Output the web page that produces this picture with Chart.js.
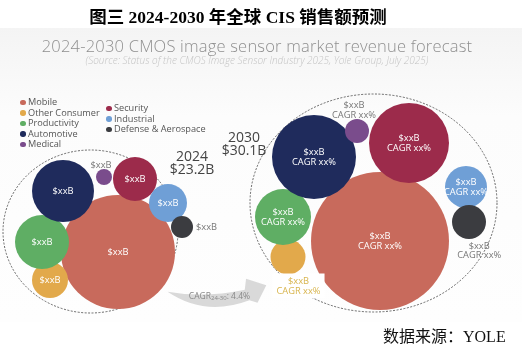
<!DOCTYPE html>
<html>
<head>
<meta charset="utf-8">
<script src="https://cdn.jsdelivr.net/npm/chart.js@4.4.1/dist/chart.umd.min.js"></script>
<style>
  html, body { margin: 0; padding: 0; background: #fff; }
  #wrap { position: relative; width: 522px; height: 347px; overflow: hidden; background: #fff; }
  #panel { position: absolute; left: 0; top: 28px; width: 522px; height: 294px;
    background: linear-gradient(#f4f4f4, #fcfcfc 30%, #fefefe); }
  #c { position: absolute; left: 0; top: 0; }
  .t { position: absolute; white-space: nowrap; }
  #title { left: 0; width: 476px; top: 3px; text-align: center; font: bold 17.5px "Liberation Serif", "Noto Sans CJK SC", serif; color: #000; }
  #sub { left: 0; width: 514px; top: 34px; text-align: center; font: 300 16.5px "Open Sans", sans-serif; color: #8f8f8f; letter-spacing: 0.2px; }
  #src { left: 0; width: 514px; top: 53px; text-align: center; font: italic 300 10px "Open Sans", sans-serif; color: #c4c4c4; }
  #legend { position: absolute; left: 0; top: 0; font: 9.2px "Open Sans", sans-serif; color: #555; }
  .li { position: absolute; white-space: nowrap; line-height: 10px; }
  .li i { position: absolute; left: -8px; top: 2.5px; width: 5.5px; height: 5.5px; border-radius: 50%; }
  .year { font: 14px "Open Sans", sans-serif; color: #444; text-align: center; line-height: 12.5px; }
  #foot { left: 383px; top: 323px; font: 16px "Liberation Serif", "Noto Sans CJK SC", serif; color: #111; }
</style>
</head>
<body>
<div id="wrap">
  <div id="panel"></div>
  <canvas id="c" width="522" height="347"></canvas>
  <div class="t" id="title">图三 2024-2030 年全球 CIS 销售额预测</div>
  <div class="t" id="sub">2024-2030 CMOS image sensor market revenue forecast</div>
  <div class="t" id="src">(Source: Status of the CMOS Image Sensor Industry 2025, Yole Group, July 2025)</div>
  <div id="legend"></div>
  <div class="t year" style="left:166px; top:150px; width:52px;">2024<br>$23.2B</div>
  <div class="t year" style="left:218px; top:131px; width:52px;">2030<br>$30.1B</div>
  <div class="t" id="foot">数据来源：YOLE</div>
</div>

<script>
// ---- data ----
const categories = ['Mobile', 'Other Consumer', 'Productivity', 'Automotive', 'Medical', 'Security', 'Industrial', 'Defense & Aerospace'];
const colors = ['#c86a5c', '#e2a94b', '#5fae64', '#1f2b5c', '#7a4c8c', '#9c2b4b', '#6f9fd6', '#3b3c40'];

const cagrText = '4.4%';

// bubble centres and radii (chart units)
const x2024 = [118, 50, 42, 63, 104, 135, 168, 182];
const y2024 = [252, 280, 242, 191, 177, 179, 203, 227];
const r2024 = [57, 18, 27, 31, 8, 22, 19, 11];

const x2030 = [380, 288, 283, 314, 357, 409, 466, 469];
const y2030 = [241, 257, 217, 157, 131, 143, 187, 222];
const r2030 = [69, 17.5, 28, 42, 12, 40, 21, 17];

// where the value label goes for each bubble
const labelPos2024 = ['in', 'in', 'in', 'in', 'above', 'in', 'in', 'right'];
const labelPos2030 = ['in', 'belowR', 'in', 'in', 'above', 'in', 'in', 'belowR'];

// dashed rings round each year
const ringX = [90.5, 373.5];
const ringY = [231.5, 203];
const ringRx = [87.5, 123.5];
const ringRy = [81.5, 109];

// ---- legend ----
const legendCol = [0, 0, 0, 0, 0, 1, 1, 1];
const legend = document.getElementById('legend');
let rowInCol = [0, 0];
categories.forEach((c, i) => {
  const col = legendCol[i];
  const row = rowInCol[col]++;
  const el = document.createElement('div');
  el.className = 'li';
  el.style.left = (col ? 114 : 28) + 'px';
  el.style.top = ((col ? 103 : 97) + row * 10.6) + 'px';
  el.innerHTML = `<i style="background:${colors[i]}"></i>${c}`;
  legend.appendChild(el);
});

// ---- helpers ----
function unitToPx(chart, r) {
  const s = chart.scales.x;
  return Math.abs(s.getPixelForValue(r) - s.getPixelForValue(0));
}

function bubbleData(xs, ys) {
  return xs.map((x, i) => ({ x: x, y: ys[i], r: 0 }));
}

// dashed rings + CAGR arrow, under the bubbles
const ringsPlugin = {
  id: 'rings',
  beforeDatasetsDraw(chart) {
    const { ctx, scales } = chart;
    const sx = scales.x, sy = scales.y;
    ctx.save();

    // arrow from ring 2024 to ring 2030
    const ringPt = (k, deg, f) => {
      const a = deg * Math.PI / 180;
      return {
        x: sx.getPixelForValue(ringX[k] + Math.cos(a) * ringRx[k] * f),
        y: sy.getPixelForValue(ringY[k] + Math.sin(a) * ringRy[k] * f)
      };
    };
    const S = ringPt(0, 40, 1.15);
    const T = ringPt(1, 139, 1.15);
    const dx = T.x - S.x, dy = T.y - S.y;
    const P = (u, v) => ({ x: S.x + u * dx - v * dy, y: S.y + u * dy + v * dx });
    // v positive = below the S->T line
    const pts = {
      cu: P(0.36, 0.09), bu: P(0.78, 0.03), ht: P(0.80, -0.08), tip: P(1, 0),
      hb: P(0.90, 0.17), bl: P(0.82, 0.14), cl: P(0.36, 0.28)
    };
    ctx.fillStyle = '#d9d9d9';
    ctx.beginPath();
    ctx.moveTo(S.x, S.y);
    ctx.quadraticCurveTo(pts.cu.x, pts.cu.y, pts.bu.x, pts.bu.y);
    ctx.lineTo(pts.ht.x, pts.ht.y);
    ctx.lineTo(pts.tip.x, pts.tip.y);
    ctx.lineTo(pts.hb.x, pts.hb.y);
    ctx.lineTo(pts.bl.x, pts.bl.y);
    ctx.quadraticCurveTo(pts.cl.x, pts.cl.y, S.x, S.y);
    ctx.closePath();
    ctx.fill();

    // arrow text
    const tp = P(0.21, 0.085);
    ctx.fillStyle = '#888';
    ctx.textBaseline = 'alphabetic';
    ctx.textAlign = 'left';
    ctx.font = '8.5px "Open Sans", sans-serif';
    let tx = tp.x;
    ctx.fillText('CAGR', tx, tp.y);
    tx += ctx.measureText('CAGR').width;
    ctx.font = '6px "Open Sans", sans-serif';
    ctx.fillText('24-30', tx, tp.y + 1.5);
    tx += ctx.measureText('24-30').width;
    ctx.font = '8.5px "Open Sans", sans-serif';
    ctx.fillText(': ' + cagrText, tx, tp.y);

    // rings
    ctx.strokeStyle = '#444';
    ctx.lineWidth = 0.8;
    ctx.setLineDash([2, 1.5]);
    ringX.forEach((rx, k) => {
      const cx = sx.getPixelForValue(rx), cy = sy.getPixelForValue(ringY[k]);
      const px = Math.abs(sx.getPixelForValue(ringRx[k]) - sx.getPixelForValue(0));
      const py = Math.abs(sy.getPixelForValue(ringRy[k]) - sy.getPixelForValue(0));
      ctx.beginPath();
      ctx.ellipse(cx, cy, px, py, 0, 0, Math.PI * 2);
      ctx.stroke();
    });
    ctx.restore();
  }
};

// value labels on / beside the bubbles
const labelsPlugin = {
  id: 'bubbleLabels',
  afterDatasetsDraw(chart) {
    const { ctx } = chart;
    ctx.save();
    ctx.textBaseline = 'middle';
    chart.data.datasets.forEach((ds, di) => {
      const meta = chart.getDatasetMeta(di);
      const pos = ds.labelPos;
      const lines = ds.labelLines;
      const lh = 9.8;
      meta.data.forEach((el, i) => {
        const r = el.options.radius;
        ctx.font = '9.3px "Open Sans", sans-serif';
        let cx = el.x, cy = el.y, color = '#fff', align = 'center';
        if (pos[i] === 'above') {
          cx = el.x - 3;
          cy = el.y - r - 4 - (lines.length - 1) * lh;
          color = '#777';
        } else if (pos[i] === 'right') {
          cx = el.x + r + 3;
          align = 'left';
          color = '#777';
        } else if (pos[i] === 'belowR') {
          cx = el.x + r * 0.6;
          cy = el.y + r + 7;
          color = i === 1 ? '#d8b54e' : '#777';
        } else {
          cy = el.y - (lines.length - 1) * lh / 2;
        }
        if (pos[i] === 'belowR' && i === 1) {
          const w = Math.max(...lines.map(t => ctx.measureText(t).width));
          ctx.fillStyle = '#fff';
          ctx.fillRect(cx - w / 2 - 4, cy - 8, w + 8, lines.length * lh + 5);
        }
        ctx.fillStyle = color;
        ctx.textAlign = align;
        lines.forEach((t, k) => ctx.fillText(t, cx, cy + k * lh));
      });
    });
    ctx.restore();
  }
};

const chart = new Chart(document.getElementById('c'), {
  type: 'bubble',
  data: {
    datasets: [
      {
        label: '2024',
        data: bubbleData(x2024, y2024),
        sizes: r2024,
        backgroundColor: colors,
        borderWidth: 0,
        clip: false,
        labelPos: labelPos2024,
        labelLines: ['$xxB']
      },
      {
        label: '2030',
        data: bubbleData(x2030, y2030),
        sizes: r2030,
        backgroundColor: colors,
        borderWidth: 0,
        clip: false,
        labelPos: labelPos2030,
        labelLines: ['$xxB', 'CAGR xx%']
      }
    ]
  },
  options: {
    responsive: false,
    animation: false,
    devicePixelRatio: 1,
    layout: { padding: 0, autoPadding: false },
    events: [],
    scales: {
      x: { type: 'linear', min: 0, max: 522, display: false },
      y: { type: 'linear', min: 0, max: 347, reverse: true, display: false }
    },
    plugins: {
      legend: { display: false },
      tooltip: { enabled: false }
    }
  },
  plugins: [ringsPlugin, labelsPlugin]
});

// bubble radius in pixels comes from the x scale once it is laid out
chart.data.datasets.forEach(ds => {
  ds.data.forEach((p, i) => { p.r = unitToPx(chart, ds.sizes[i]); });
});
chart.update();
</script>
</body>
</html>
